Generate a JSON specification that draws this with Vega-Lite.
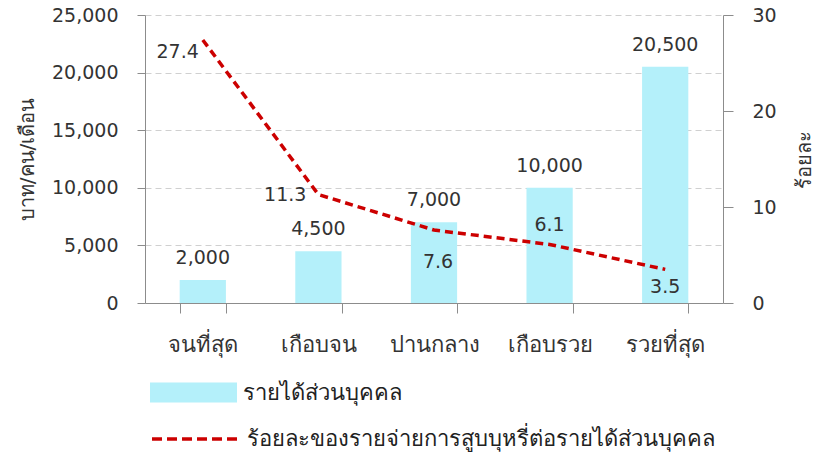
{
  "$schema": "https://vega.github.io/schema/vega-lite/v6.json",
  "autosize": "none",
  "width": 578,
  "height": 288,
  "padding": {"left": 145, "top": 15, "right": 96, "bottom": 152},
  "background": "white",
  "config": {
    "font": "Tahoma, DejaVu Sans, sans-serif",
    "view": {"stroke": null},
    "axis": {"labelColor": "#333333", "titleColor": "#333333", "labelFontSize": 19, "titleFontSize": 20, "titleFontWeight": "normal", "domainColor": "#8c8c8c", "tickColor": "#8c8c8c"},
    "legend": {"labelFontSize": 22, "labelColor": "#222222", "padding": 0, "labelLimit": 1000}
  },
  "data": {"values": [
    {"group": "จนที่สุด", "income": 2000, "pct": 27.4},
    {"group": "เกือบจน", "income": 4500, "pct": 11.3},
    {"group": "ปานกลาง", "income": 7000, "pct": 7.6},
    {"group": "เกือบรวย", "income": 10000, "pct": 6.1},
    {"group": "รวยที่สุด", "income": 20500, "pct": 3.5}
  ]},
  "encoding": {
    "x": {"field": "group", "type": "nominal", "sort": null,
      "scale": {"paddingInner": 0.6, "paddingOuter": 0.3},
      "axis": {"title": null, "labelAngle": 0, "tickBand": "extent", "tickSize": 10, "labelPadding": 21, "labelFontSize": 22}}
  },
  "layer": [
    {
      "encoding": {
        "y": {"field": "income", "type": "quantitative",
          "scale": {"domain": [0, 25000], "nice": false},
          "axis": {"title": "บาท/คน/เดือน", "values": [0, 5000, 10000, 15000, 20000, 25000], "format": ",d", "tickSize": 8, "labelPadding": 19, "titlePadding": 14, "grid": true, "gridColor": "#d0d0d0", "gridDash": [6, 4]}}
      },
      "layer": [
        {"mark": {"type": "bar", "color": "#B4F0FA"},
          "encoding": {"fill": {"datum": "รายได้ส่วนบุคคล", "type": "nominal", "scale": {"range": ["#B4F0FA"]},
            "legend": {"title": null, "orient": "none", "legendX": 5, "legendY": 334, "symbolType": "M-1,-0.23L1,-0.23L1,0.23L-1,0.23Z", "symbolSize": 7569, "symbolStrokeWidth": 0, "labelOffset": 6}}}},
        {"mark": {"type": "text", "baseline": "middle", "dy": -22, "fontSize": 19, "color": "#333333"},
          "encoding": {"text": {"field": "income", "type": "quantitative", "format": ",d"}}}
      ]
    },
    {
      "encoding": {
        "y": {"field": "pct", "type": "quantitative",
          "scale": {"domain": [0, 30], "nice": false},
          "axis": {"title": "ร้อยละ", "orient": "right", "titleAngle": -90, "values": [0, 10, 20, 30], "tickSize": 10, "labelPadding": 19, "titlePadding": 38, "grid": false}}
      },
      "layer": [
        {"mark": {"type": "line", "color": "#CC0000", "strokeWidth": 3.5, "strokeDash": [8, 5]},
          "encoding": {"stroke": {"datum": "ร้อยละของรายจ่ายการสูบบุหรี่ต่อรายได้ส่วนบุคคล", "type": "nominal", "scale": {"range": ["#CC0000"]},
            "legend": {"title": null, "orient": "none", "legendX": 5, "legendY": 379, "symbolType": "stroke", "symbolSize": 7396, "symbolStrokeWidth": 3.5, "symbolDash": [10, 5], "labelOffset": 7}}}},
        {"transform": [{"filter": "datum.group === 'จนที่สุด'"}],
          "mark": {"type": "text", "align": "right", "baseline": "middle", "dx": -4, "dy": 12, "fontSize": 19, "color": "#333333"},
          "encoding": {"text": {"field": "pct", "type": "quantitative", "format": ".1f"}}},
        {"transform": [{"filter": "datum.group === 'เกือบจน'"}],
          "mark": {"type": "text", "align": "right", "baseline": "middle", "dx": -12, "dy": 0, "fontSize": 19, "color": "#333333"},
          "encoding": {"text": {"field": "pct", "type": "quantitative", "format": ".1f"}}},
        {"transform": [{"filter": "datum.group === 'ปานกลาง'"}],
          "mark": {"type": "text", "baseline": "middle", "dx": 4, "dy": 32, "fontSize": 19, "color": "#333333"},
          "encoding": {"text": {"field": "pct", "type": "quantitative", "format": ".1f"}}},
        {"transform": [{"filter": "datum.group === 'เกือบรวย'"}],
          "mark": {"type": "text", "baseline": "middle", "dy": -19, "fontSize": 19, "color": "#333333"},
          "encoding": {"text": {"field": "pct", "type": "quantitative", "format": ".1f"}}},
        {"transform": [{"filter": "datum.group === 'รวยที่สุด'"}],
          "mark": {"type": "text", "baseline": "middle", "dy": 18, "fontSize": 19, "color": "#333333"},
          "encoding": {"text": {"field": "pct", "type": "quantitative", "format": ".1f"}}}
      ]
    }
  ],
  "resolve": {"scale": {"y": "independent", "fill": "independent", "stroke": "independent"}}
}
